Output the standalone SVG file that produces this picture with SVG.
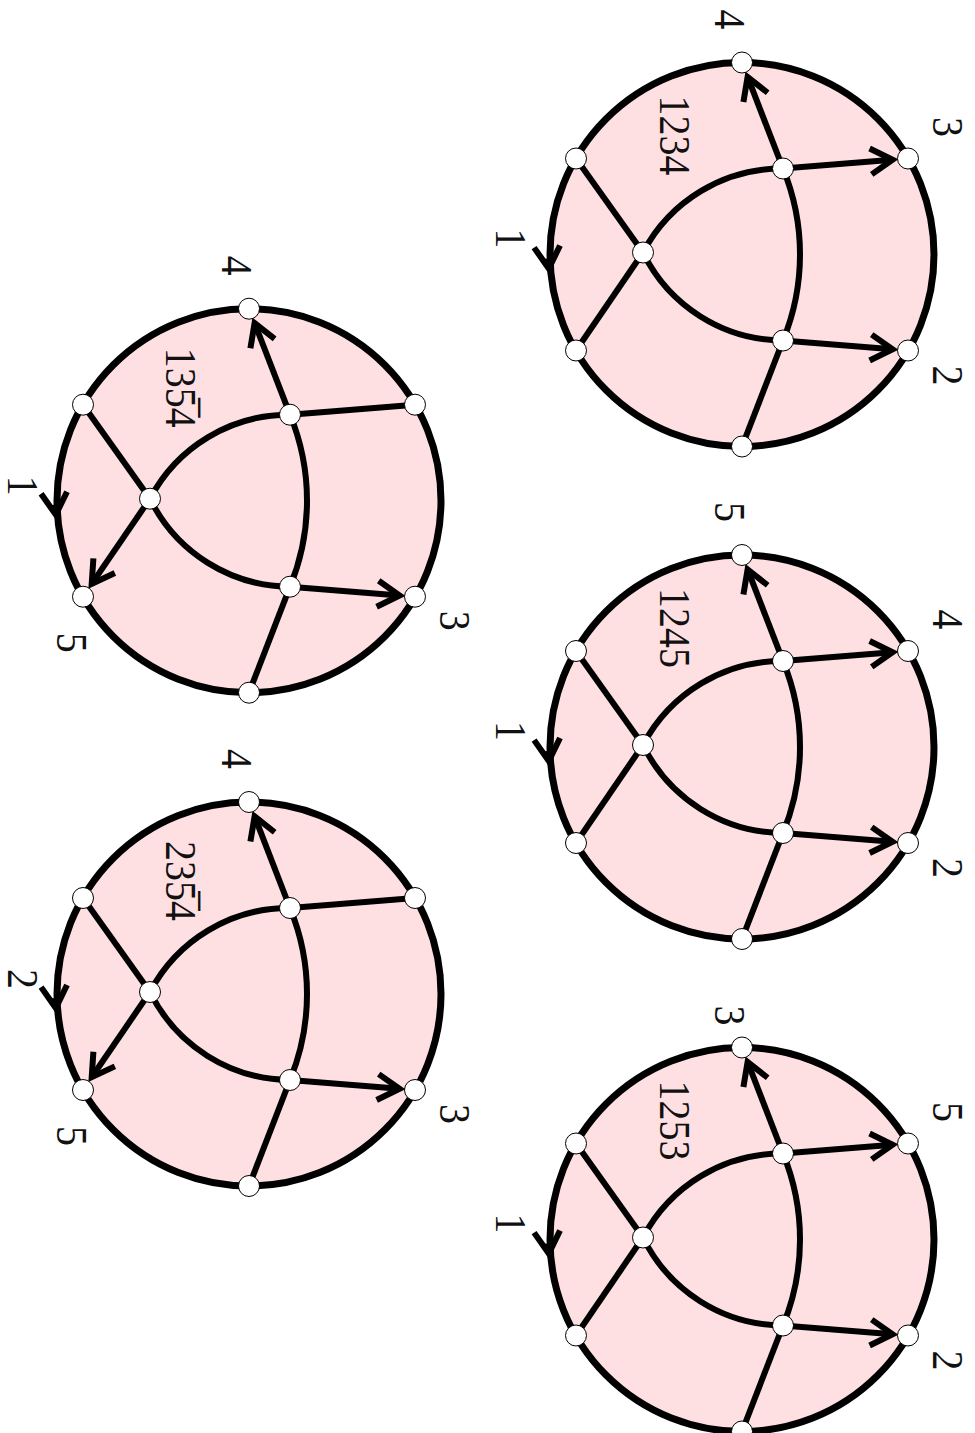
<svg xmlns="http://www.w3.org/2000/svg" width="975" height="1433" viewBox="0 0 975 1433">
<style>
.disk{fill:#ffe0e2;stroke:#000;stroke-width:7}
.e{fill:none;stroke:#000;stroke-width:6}
.ea{fill:none;stroke:#000;stroke-width:6;marker-end:url(#ah)}
.v{fill:#fff;stroke:#000;stroke-width:1}
.lbl{font-size:40px;fill:#111;text-anchor:middle}
</style>
<defs>
<marker id="ah" markerUnits="userSpaceOnUse" orient="auto" overflow="visible" refX="0" refY="0" markerWidth="1" markerHeight="1">
<path d="M -22 -13 L 0 0 L -22 13" fill="none" stroke="#000" stroke-width="6" stroke-linejoin="miter" stroke-miterlimit="10"/>
</marker>
</defs>
<g font-family="'Liberation Serif', 'DejaVu Serif', serif">

<!-- Disk 1234 -->
<g id="disk-1234" transform="translate(742,254.5)">
<circle class="disk" cx="0" cy="0" r="192"/>
<g id="disk-1234-connectors">
<path class="e" d="M -166 -96 L -99 -2"/>
<path class="e" d="M -99 -2 L -166 96"/>
<path class="e" d="M -99 -2 A 157 157 0 0 1 41 -86"/>
<path class="e" d="M -99 -2 A 157 157 0 0 0 41 86"/>
<path class="e" d="M 41 -86 A 226 226 0 0 1 41 86"/>
<path class="ea" d="M 41 -86 L 5.6 -177.6"/>
<path class="ea" d="M 41 -86 L 150.6 -94.8"/>
<path class="ea" d="M 41 86 L 150.6 94.8"/>
<path class="e" d="M 41 86 L 0 192"/>
<path class="ea" d="M -194 4 L -193.2 14"/>
</g>
<g id="disk-1234-vertices">
<circle id="d1-t" class="v" cx="0" cy="-192" r="10.5"/>
<circle id="d1-ur" class="v" cx="166" cy="-96" r="10.5"/>
<circle id="d1-lr" class="v" cx="166" cy="96" r="10.5"/>
<circle id="d1-b" class="v" cx="0" cy="192" r="10.5"/>
<circle id="d1-ll" class="v" cx="-166" cy="96" r="10.5"/>
<circle id="d1-ul" class="v" cx="-166" cy="-96" r="10.5"/>
<circle id="d1-l" class="v" cx="-99" cy="-2" r="10.5"/>
<circle id="d1-u" class="v" cx="41" cy="-86" r="10.5"/>
<circle id="d1-d" class="v" cx="41" cy="86" r="10.5"/>
</g>
<text class="lbl" transform="translate(-82,-119) rotate(90) scale(1,1.12)">1234</text>
<text class="lbl" transform="translate(-27,-235) rotate(90) scale(1,1.12)">4</text>
<text class="lbl" transform="translate(191,-127.5) rotate(90) scale(1,1.12)">3</text>
<text class="lbl" transform="translate(191,121) rotate(90) scale(1,1.12)">2</text>
<text class="lbl" transform="translate(-246,-16) rotate(90) scale(1,1.12)">1</text>
</g>

<!-- Disk 1245 -->
<g id="disk-1245" transform="translate(742,747)">
<circle class="disk" cx="0" cy="0" r="192"/>
<g id="disk-1245-connectors">
<path class="e" d="M -166 -96 L -99 -2"/>
<path class="e" d="M -99 -2 L -166 96"/>
<path class="e" d="M -99 -2 A 157 157 0 0 1 41 -86"/>
<path class="e" d="M -99 -2 A 157 157 0 0 0 41 86"/>
<path class="e" d="M 41 -86 A 226 226 0 0 1 41 86"/>
<path class="ea" d="M 41 -86 L 5.6 -177.6"/>
<path class="ea" d="M 41 -86 L 150.6 -94.8"/>
<path class="ea" d="M 41 86 L 150.6 94.8"/>
<path class="e" d="M 41 86 L 0 192"/>
<path class="ea" d="M -194 4 L -193.2 14"/>
</g>
<g id="disk-1245-vertices">
<circle id="d2-t" class="v" cx="0" cy="-192" r="10.5"/>
<circle id="d2-ur" class="v" cx="166" cy="-96" r="10.5"/>
<circle id="d2-lr" class="v" cx="166" cy="96" r="10.5"/>
<circle id="d2-b" class="v" cx="0" cy="192" r="10.5"/>
<circle id="d2-ll" class="v" cx="-166" cy="96" r="10.5"/>
<circle id="d2-ul" class="v" cx="-166" cy="-96" r="10.5"/>
<circle id="d2-l" class="v" cx="-99" cy="-2" r="10.5"/>
<circle id="d2-u" class="v" cx="41" cy="-86" r="10.5"/>
<circle id="d2-d" class="v" cx="41" cy="86" r="10.5"/>
</g>
<text class="lbl" transform="translate(-82,-119) rotate(90) scale(1,1.12)">1245</text>
<text class="lbl" transform="translate(-27,-235) rotate(90) scale(1,1.12)">5</text>
<text class="lbl" transform="translate(191,-127.5) rotate(90) scale(1,1.12)">4</text>
<text class="lbl" transform="translate(191,121) rotate(90) scale(1,1.12)">2</text>
<text class="lbl" transform="translate(-246,-16) rotate(90) scale(1,1.12)">1</text>
</g>

<!-- Disk 1253 -->
<g id="disk-1253" transform="translate(742,1239.5)">
<circle class="disk" cx="0" cy="0" r="192"/>
<g id="disk-1253-connectors">
<path class="e" d="M -166 -96 L -99 -2"/>
<path class="e" d="M -99 -2 L -166 96"/>
<path class="e" d="M -99 -2 A 157 157 0 0 1 41 -86"/>
<path class="e" d="M -99 -2 A 157 157 0 0 0 41 86"/>
<path class="e" d="M 41 -86 A 226 226 0 0 1 41 86"/>
<path class="ea" d="M 41 -86 L 5.6 -177.6"/>
<path class="ea" d="M 41 -86 L 150.6 -94.8"/>
<path class="ea" d="M 41 86 L 150.6 94.8"/>
<path class="e" d="M 41 86 L 0 192"/>
<path class="ea" d="M -194 4 L -193.2 14"/>
</g>
<g id="disk-1253-vertices">
<circle id="d5-t" class="v" cx="0" cy="-192" r="10.5"/>
<circle id="d5-ur" class="v" cx="166" cy="-96" r="10.5"/>
<circle id="d5-lr" class="v" cx="166" cy="96" r="10.5"/>
<circle id="d5-b" class="v" cx="0" cy="192" r="10.5"/>
<circle id="d5-ll" class="v" cx="-166" cy="96" r="10.5"/>
<circle id="d5-ul" class="v" cx="-166" cy="-96" r="10.5"/>
<circle id="d5-l" class="v" cx="-99" cy="-2" r="10.5"/>
<circle id="d5-u" class="v" cx="41" cy="-86" r="10.5"/>
<circle id="d5-d" class="v" cx="41" cy="86" r="10.5"/>
</g>
<text class="lbl" transform="translate(-82,-119) rotate(90) scale(1,1.12)">1253</text>
<text class="lbl" transform="translate(-27,-224) rotate(90) scale(1,1.12)">3</text>
<text class="lbl" transform="translate(191,-127.5) rotate(90) scale(1,1.12)">5</text>
<text class="lbl" transform="translate(191,121) rotate(90) scale(1,1.12)">2</text>
<text class="lbl" transform="translate(-246,-16) rotate(90) scale(1,1.12)">1</text>
</g>

<!-- Disk 135̄4 -->
<g id="disk-1354bar" transform="translate(249,500.7)">
<circle class="disk" cx="0" cy="0" r="192"/>
<g id="disk-1354bar-connectors">
<path class="e" d="M -166 -96 L -99 -2"/>
<path class="ea" d="M -99 -2 L -157.3 83.2"/>
<path class="e" d="M -99 -2 A 157 157 0 0 1 41 -86"/>
<path class="e" d="M -99 -2 A 157 157 0 0 0 41 86"/>
<path class="e" d="M 41 -86 A 226 226 0 0 1 41 86"/>
<path class="ea" d="M 41 -86 L 5.6 -177.6"/>
<path class="e" d="M 41 -86 L 166 -96"/>
<path class="ea" d="M 41 86 L 150.6 94.8"/>
<path class="e" d="M 41 86 L 0 192"/>
<path class="ea" d="M -194 4 L -193.2 14"/>
</g>
<g id="disk-1354bar-vertices">
<circle id="d3-t" class="v" cx="0" cy="-192" r="10.5"/>
<circle id="d3-ur" class="v" cx="166" cy="-96" r="10.5"/>
<circle id="d3-lr" class="v" cx="166" cy="96" r="10.5"/>
<circle id="d3-b" class="v" cx="0" cy="192" r="10.5"/>
<circle id="d3-ll" class="v" cx="-166" cy="96" r="10.5"/>
<circle id="d3-ul" class="v" cx="-166" cy="-96" r="10.5"/>
<circle id="d3-l" class="v" cx="-99" cy="-2" r="10.5"/>
<circle id="d3-u" class="v" cx="41" cy="-86" r="10.5"/>
<circle id="d3-d" class="v" cx="41" cy="86" r="10.5"/>
</g>
<text class="lbl" transform="translate(-83,-113) rotate(90) scale(1,1.12)">135&#x305;4</text>
<text class="lbl" transform="translate(-27,-235) rotate(90) scale(1,1.12)">4</text>
<text class="lbl" transform="translate(191,120) rotate(90) scale(1,1.12)">3</text>
<text class="lbl" transform="translate(-192,142) rotate(90) scale(1,1.12)">5</text>
<text class="lbl" transform="translate(-241,-15) rotate(90) scale(1,1.12)">1</text>
</g>

<!-- Disk 235̄4 -->
<g id="disk-2354bar" transform="translate(249,994)">
<circle class="disk" cx="0" cy="0" r="192"/>
<g id="disk-2354bar-connectors">
<path class="e" d="M -166 -96 L -99 -2"/>
<path class="ea" d="M -99 -2 L -157.3 83.2"/>
<path class="e" d="M -99 -2 A 157 157 0 0 1 41 -86"/>
<path class="e" d="M -99 -2 A 157 157 0 0 0 41 86"/>
<path class="e" d="M 41 -86 A 226 226 0 0 1 41 86"/>
<path class="ea" d="M 41 -86 L 5.6 -177.6"/>
<path class="e" d="M 41 -86 L 166 -96"/>
<path class="ea" d="M 41 86 L 150.6 94.8"/>
<path class="e" d="M 41 86 L 0 192"/>
<path class="ea" d="M -194 4 L -193.2 14"/>
</g>
<g id="disk-2354bar-vertices">
<circle id="d4-t" class="v" cx="0" cy="-192" r="10.5"/>
<circle id="d4-ur" class="v" cx="166" cy="-96" r="10.5"/>
<circle id="d4-lr" class="v" cx="166" cy="96" r="10.5"/>
<circle id="d4-b" class="v" cx="0" cy="192" r="10.5"/>
<circle id="d4-ll" class="v" cx="-166" cy="96" r="10.5"/>
<circle id="d4-ul" class="v" cx="-166" cy="-96" r="10.5"/>
<circle id="d4-l" class="v" cx="-99" cy="-2" r="10.5"/>
<circle id="d4-u" class="v" cx="41" cy="-86" r="10.5"/>
<circle id="d4-d" class="v" cx="41" cy="86" r="10.5"/>
</g>
<text class="lbl" transform="translate(-83,-113) rotate(90) scale(1,1.12)">235&#x305;4</text>
<text class="lbl" transform="translate(-27,-235) rotate(90) scale(1,1.12)">4</text>
<text class="lbl" transform="translate(191,120) rotate(90) scale(1,1.12)">3</text>
<text class="lbl" transform="translate(-192,142) rotate(90) scale(1,1.12)">5</text>
<text class="lbl" transform="translate(-241,-15) rotate(90) scale(1,1.12)">2</text>
</g>
</g>
</svg>
